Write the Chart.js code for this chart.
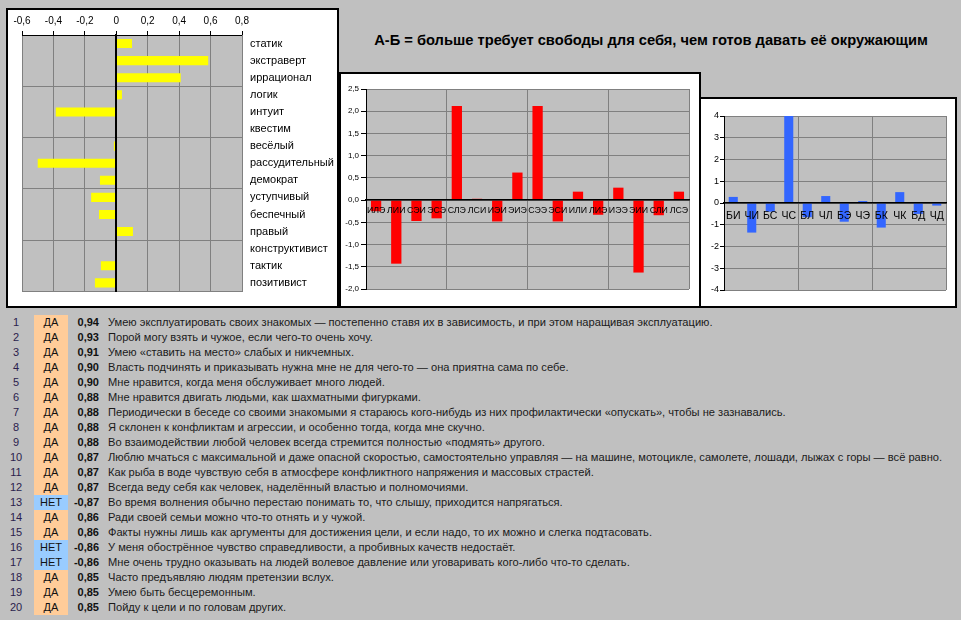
<!DOCTYPE html>
<html lang="ru">
<head>
<meta charset="utf-8">
<title>А-Б</title>
<script src="https://cdn.jsdelivr.net/npm/chart.js@4/dist/chart.umd.min.js"></script>
<style>
  html, body { margin: 0; padding: 0; }
  body {
    width: 961px; height: 620px; overflow: hidden; position: relative;
    background: #c0c0c0;
    font-family: "Liberation Sans", Arial, sans-serif;
    color: #1a1a1a;
  }
  .panel { position: absolute; background: #fff; border: 2px solid #000; box-sizing: border-box; }
  .panel .wrap { position: absolute; left: 0; top: 0; right: 0; bottom: 0; }
  #title {
    position: absolute; left: 340px; top: 32px; width: 622px; text-align: center;
    font-weight: bold; font-size: 14.7px; color: #000;
  }
  #rows { position: absolute; left: 0; top: 315px; }
  .row { position: absolute; left: 0; height: 15px; line-height: 15px; font-size: 11px; white-space: nowrap; }
  .row .num { position: absolute; left: 4px; width: 24px; text-align: center; color: #2b1d4d; }
  .row .ans { position: absolute; left: 34px; width: 34px; text-align: center; height: 15px; color: #111; }
  .row .ans.yes { background: #ffcc99; }
  .row .ans.no { background: #99ccff; }
  .row .score { position: absolute; left: 68px; width: 31px; text-align: right; font-weight: bold; color: #111; }
  .row .text { position: absolute; left: 108px; color: #1a1a1a; font-size: 11.12px; }
</style>
</head>
<body>

<div class="panel" style="left:6px; top:8px; width:333px; height:300px;">
  <div class="wrap"><canvas id="traitChart"></canvas></div>
</div>

<div id="title">А-Б = больше требует свободы для себя, чем готов давать её окружающим</div>

<div class="panel" style="left:339px; top:72px; width:362px; height:236px;">
  <div class="wrap"><canvas id="typeChart"></canvas></div>
</div>

<div class="panel" style="left:699px; top:97px; width:258px; height:211px;">
  <div class="wrap"><canvas id="elementChart"></canvas></div>
</div>

<div id="rows"></div>

<script>
// признаки (левый график)
var traitLabels = ['статик', 'экстраверт', 'иррационал', 'логик', 'интуит', 'квестим', 'весёлый',
    'рассудительный', 'демократ', 'уступчивый', 'беспечный', 'правый', 'конструктивист', 'тактик', 'позитивист'];
var traitValues = [0.10, 0.585, 0.41, 0.036, -0.385, -0.008, -0.015, -0.50, -0.104, -0.16, -0.11, 0.106, 0, -0.098, -0.136];
var traitTicks = [-0.6, -0.4, -0.2, 0, 0.2, 0.4, 0.6, 0.8];

// ТИМы (средний график)
var typeLabels = ['ИЛЭ', 'ЛИИ', 'СЭИ', 'ЭСЭ', 'СЛЭ', 'ЛСИ', 'ИЭИ', 'ЭИЭ', 'СЭЭ', 'ЭСИ', 'ИЛИ', 'ЛИЭ', 'ИЭЭ', 'ЭИИ', 'СЛИ', 'ЛСЭ'];
var typeValues = [-0.25, -1.43, -0.47, -0.41, 2.12, 0.03, -0.48, 0.62, 2.12, -0.48, 0.19, -0.33, 0.28, -1.63, -0.34, 0.19];

// функции (правый график)
var elementLabels = ['БИ', 'ЧИ', 'БС', 'ЧС', 'БЛ', 'ЧЛ', 'БЭ', 'ЧЭ', 'БК', 'ЧК', 'БД', 'ЧД'];
var elementValues = [0.28, -1.36, -0.4, 4.0, -0.65, 0.32, -0.86, 0.09, -1.13, 0.5, -0.5, -0.12];

// вопросы
var rowAnswers = ['ДА', 'ДА', 'ДА', 'ДА', 'ДА', 'ДА', 'ДА', 'ДА', 'ДА', 'ДА',
    'ДА', 'ДА', 'НЕТ', 'ДА', 'ДА', 'НЕТ', 'НЕТ', 'ДА', 'ДА', 'ДА'];
var rowScores = [0.94, 0.93, 0.91, 0.90, 0.90, 0.88, 0.88, 0.88, 0.88, 0.87,
    0.87, 0.87, -0.87, 0.86, 0.86, -0.86, -0.86, 0.85, 0.85, 0.85];
var rowTexts = [
    'Умею эксплуатировать своих знакомых — постепенно ставя их в зависимость, и при этом наращивая эксплуатацию.',
    'Порой могу взять и чужое, если чего-то очень хочу.',
    'Умею «ставить на место» слабых и никчемных.',
    'Власть подчинять и приказывать нужна мне не для чего-то — она приятна сама по себе.',
    'Мне нравится, когда меня обслуживает много людей.',
    'Мне нравится двигать людьми, как шахматными фигурками.',
    'Периодически в беседе со своими знакомыми я стараюсь кого-нибудь из них профилактически «опускать», чтобы не зазнавались.',
    'Я склонен к конфликтам и агрессии, и особенно тогда, когда мне скучно.',
    'Во взаимодействии любой человек всегда стремится полностью «подмять» другого.',
    'Люблю мчаться с максимальной и даже опасной скоростью, самостоятельно управляя — на машине, мотоцикле, самолете, лошади, лыжах с горы — всё равно.',
    'Как рыба в воде чувствую себя в атмосфере конфликтного напряжения и массовых страстей.',
    'Всегда веду себя как человек, наделённый властью и полномочиями.',
    'Во время волнения обычно перестаю понимать то, что слышу, приходится напрягаться.',
    'Ради своей семьи можно что-то отнять и у чужой.',
    'Факты нужны лишь как аргументы для достижения цели, и если надо, то их можно и слегка подтасовать.',
    'У меня обострённое чувство справедливости, а пробивных качеств недостаёт.',
    'Мне очень трудно оказывать на людей волевое давление или уговаривать кого-либо что-то сделать.',
    'Часто предъявляю людям претензии вслух.',
    'Умею быть бесцеремонным.',
    'Пойду к цели и по головам других.'
];

Chart.defaults.font.family = '"Liberation Sans", Arial, sans-serif';
Chart.defaults.color = '#000';
Chart.defaults.animation = false;

var GRID = '#808080';

// серый фон области построения, как в Excel
var plotBackground = {
    id: 'plotBackground',
    beforeDraw: function (chart) {
        var a = chart.chartArea;
        var ctx = chart.ctx;
        ctx.save();
        ctx.fillStyle = '#c0c0c0';
        ctx.fillRect(a.left, a.top, a.right - a.left, a.bottom - a.top);
        ctx.restore();
    }
};

function comma(v, digits) {
    return v.toFixed(digits).replace('.', ',');
}

// --- левый график: горизонтальные жёлтые полосы ---
new Chart(document.getElementById('traitChart'), {
    type: 'bar',
    data: {
        labels: traitLabels,
        datasets: [{
            data: traitValues,
            backgroundColor: '#ffff00',
            xAxisID: 'x',
            yAxisID: 'y',
            categoryPercentage: 1,
            barPercentage: 0.53
        }]
    },
    options: {
        indexAxis: 'y',
        responsive: true,
        maintainAspectRatio: false,
        layout: { padding: { left: 14, top: 0, right: 0, bottom: 13 } },
        plugins: { legend: { display: false }, tooltip: { enabled: false } },
        scales: {
            x: {
                position: 'top',
                min: -0.6,
                max: 0.8,
                afterBuildTicks: function (scale) {
                    scale.ticks = traitTicks.map(function (v) { return { value: v }; });
                },
                ticks: {
                    font: { size: 10 },
                    padding: 4,
                    callback: function (v) { return Math.abs(v) < 1e-9 ? '0' : comma(v, 1); }
                },
                grid: {
                    color: function (ctx) {
                        return ctx.tick && Math.abs(ctx.tick.value) < 1e-9 ? '#000' : GRID;
                    },
                    tickColor: '#000',
                    tickLength: 4
                },
                border: { color: '#000' },
                afterFit: function (scale) { scale.height = 25; }
            },
            y: {
                position: 'right',
                ticks: { font: { size: 11 }, padding: 8, autoSkip: false, color: '#000' },
                grid: {
                    drawTicks: false,
                    color: function (ctx) {
                        return (ctx.index === undefined || ctx.index % 3 === 0) ? GRID : 'rgba(0,0,0,0)';
                    }
                },
                border: { color: GRID },
                afterFit: function (scale) { scale.width = 95; }
            },
            zero: {
                type: 'category',
                axis: 'y',
                position: { x: 0 },
                ticks: { display: false },
                grid: { display: false },
                border: { color: '#000', width: 2, z: 1 },
                afterFit: function (scale) { scale.width = 0; }
            }
        }
    },
    plugins: [plotBackground]
});

// вертикальные графики с осью категорий на нуле
function columnChart(canvasId, labels, values, color, opts) {
    return new Chart(document.getElementById(canvasId), {
        type: 'bar',
        data: {
            labels: labels,
            datasets: [{
                data: values,
                backgroundColor: color,
                categoryPercentage: 1,
                barPercentage: opts.barPercentage
            }]
        },
        options: {
            responsive: true,
            maintainAspectRatio: false,
            layout: { padding: opts.padding },
            plugins: { legend: { display: false }, tooltip: { enabled: false } },
            scales: {
                x: {
                    position: { y: 0 },
                    ticks: {
                        font: { size: opts.labelSize },
                        padding: opts.labelPadding,
                        autoSkip: false,
                        maxRotation: 0,
                        minRotation: 0,
                        color: '#000',
                        z: 1
                    },
                    grid: {
                        drawTicks: false,
                        color: function (ctx) {
                            if (ctx.index === undefined) return GRID;
                            return (ctx.index > 0 && ctx.index % 4 === 0) ? GRID : 'rgba(0,0,0,0)';
                        }
                    },
                    border: { color: '#000', width: 1.5, z: 1 },
                    afterFit: function (scale) { scale.height = 0; }
                },
                y: {
                    min: opts.min,
                    max: opts.max,
                    ticks: {
                        stepSize: opts.step,
                        font: { size: opts.tickSize },
                        padding: opts.tickPadding,
                        color: '#000',
                        callback: opts.format
                    },
                    grid: { color: GRID, tickColor: '#000', tickLength: opts.tickLength },
                    border: { color: '#000' },
                    afterFit: function (scale) { scale.width = opts.axisWidth; }
                }
            }
        },
        plugins: [plotBackground]
    });
}

columnChart('typeChart', typeLabels, typeValues, '#ff0000', {
    barPercentage: 0.51,
    padding: { left: 0, top: 15, right: 10, bottom: 17 },
    labelSize: 8.8,
    labelPadding: 5,
    min: -2,
    max: 2.5,
    step: 0.5,
    tickSize: 8,
    tickPadding: 2,
    tickLength: 5,
    axisWidth: 25,
    format: function (v) { return comma(v, 1); }
});

columnChart('elementChart', elementLabels, elementValues, '#3366ff', {
    barPercentage: 0.49,
    padding: { left: 0, top: 17, right: 9, bottom: 16 },
    labelSize: 10.5,
    labelPadding: 7,
    min: -4,
    max: 4,
    step: 1,
    tickSize: 9,
    tickPadding: 1,
    tickLength: 4,
    axisWidth: 23,
    format: function (v) { return String(v); }
});

// таблица вопросов
var rows = document.getElementById('rows');
rowTexts.forEach(function (text, i) {
    var row = document.createElement('div');
    row.className = 'row';
    row.style.top = (i * 15) + 'px';
    var yes = rowAnswers[i] === 'ДА';
    row.innerHTML =
        '<span class="num">' + (i + 1) + '</span>' +
        '<span class="ans ' + (yes ? 'yes' : 'no') + '">' + rowAnswers[i] + '</span>' +
        '<span class="score">' + comma(rowScores[i], 2) + '</span>' +
        '<span class="text"></span>';
    row.querySelector('.text').textContent = text;
    rows.appendChild(row);
});
</script>
</body>
</html>
